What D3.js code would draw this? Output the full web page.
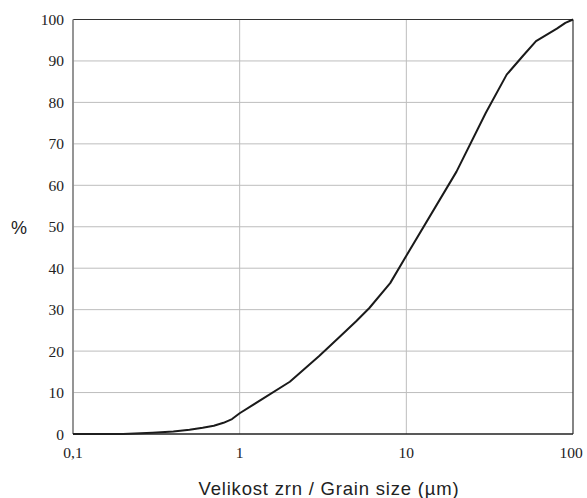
<!DOCTYPE html>
<html><head><meta charset="utf-8">
<script src="https://cdn.jsdelivr.net/npm/d3@7"></script>
<style>body{margin:0;background:#fff}svg{display:block}</style>
</head><body>
<svg id="c" width="587" height="498"></svg>
<script>
const sizes = [0.1, 0.2, 0.3, 0.4, 0.5, 0.6, 0.7, 0.8, 0.9, 1, 2, 3, 4, 5, 6, 8, 10, 20, 30, 40, 50, 60, 80, 90, 100];
const percent = [0, 0, 0.3, 0.6, 1.0, 1.5, 2.0, 2.7, 3.6, 5.0, 12.6, 18.8, 23.5, 27.2, 30.4, 36.4, 43, 63.3, 77.5, 86.7, 91.2, 94.8, 97.8, 99.2, 100];
const xTicks = [0.1, 1, 10, 100];
const xTickLabels = ["0,1", "1", "10", "100"];
const yTicks = [0, 10, 20, 30, 40, 50, 60, 70, 80, 90, 100];
const xTitle = "Velikost zrn / Grain size (µm)";
const yTitle = "%";

const L = 73, R = 573, T = 19.5, B = 434;
const svg = d3.select("#c");
const x = d3.scaleLog().domain([0.1, 100]).range([L, R]);
const y = d3.scaleLinear().domain([0, 100]).range([B, T]);

// grid
svg.append("g").selectAll("line").data(yTicks.filter(d => d > 0 && d < 100)).join("line")
  .attr("x1", L).attr("x2", R).attr("y1", d => y(d)).attr("y2", d => y(d))
  .attr("stroke", "#bdbdbd").attr("stroke-width", 1);
svg.append("g").selectAll("line").data(xTicks.filter(d => d > 0.1 && d < 100)).join("line")
  .attr("y1", T).attr("y2", B).attr("x1", d => x(d)).attr("x2", d => x(d))
  .attr("stroke", "#bdbdbd").attr("stroke-width", 1);

// frame
svg.append("line").attr("x1", L).attr("x2", R).attr("y1", T).attr("y2", T).attr("stroke", "#333").attr("stroke-width", 1.2);
svg.append("line").attr("x1", R).attr("x2", R).attr("y1", T).attr("y2", B).attr("stroke", "#333").attr("stroke-width", 1.2);
svg.append("line").attr("x1", L).attr("x2", L).attr("y1", T).attr("y2", B).attr("stroke", "#8a8a8a").attr("stroke-width", 1.8);

// curve
const data = sizes.map((s, i) => [s, percent[i]]);
svg.append("path").datum(data)
  .attr("d", d3.line().x(d => x(d[0])).y(d => y(d[1])))
  .attr("fill", "none").attr("stroke", "#1a1a1a").attr("stroke-width", 2).attr("stroke-linejoin", "round");

svg.append("line").attr("x1", L).attr("x2", R).attr("y1", B).attr("y2", B).attr("stroke", "#222").attr("stroke-width", 1.5);

// axes labels
const serif = "'Liberation Serif', 'DejaVu Serif', serif";
svg.append("g").selectAll("text").data(yTicks).join("text")
  .attr("x", 64).attr("y", d => y(d) + 5.5).attr("text-anchor", "end")
  .attr("font-family", serif).attr("font-size", 15.5).attr("fill", "#222").text(d => d);
svg.append("g").selectAll("text").data(xTicks).join("text")
  .attr("x", (d, i) => x(d) - (i === 3 ? 2 : 0)).attr("y", 458).attr("text-anchor", "middle")
  .attr("font-family", serif).attr("font-size", 15.5).attr("fill", "#222").text((d, i) => xTickLabels[i]);

svg.append("text").attr("x", 329).attr("y", 495).attr("text-anchor", "middle")
  .attr("font-family", "'Liberation Sans', Arial, sans-serif").attr("font-size", 18.5)
  .attr("letter-spacing", 0.8).attr("fill", "#222").text(xTitle);
svg.append("text").attr("x", 19).attr("y", 234).attr("text-anchor", "middle")
  .attr("font-family", "'Liberation Sans', Arial, sans-serif").attr("font-size", 18).attr("fill", "#222").text(yTitle);
</script>
</body></html>
